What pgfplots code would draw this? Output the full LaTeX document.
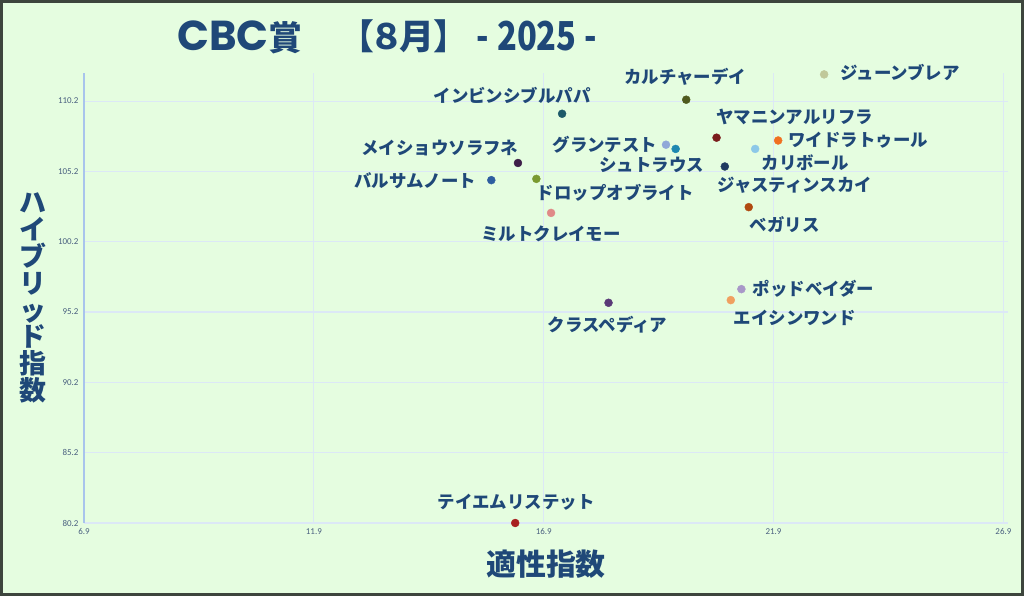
\documentclass[border=0pt]{standalone}
\usepackage{pgfplots}
\pgfplotsset{compat=1.18}
\usepackage{fontspec}
\setmainfont{Carlito}
\newfontfamily\jp{Noto Sans CJK JP}
\newfontfamily\jpp{Noto Sans CJK JP}[RawFeature=+palt]
\newfontfamily\pop{Poppins}

\definecolor{bg}{HTML}{E5FDE0}
\definecolor{frame}{HTML}{3D453D}
\definecolor{navy}{HTML}{1F4878}
\definecolor{gridc}{HTML}{DCE8F6}
\definecolor{yaxc}{HTML}{A8C4EC}
\definecolor{tickc}{HTML}{4A6080}

\definecolor{cJune}{HTML}{C0C89A}
\definecolor{cCult}{HTML}{4F5A1E}
\definecolor{cYama}{HTML}{7A1C1C}
\definecolor{cWide}{HTML}{F07020}
\definecolor{cKari}{HTML}{8CC8E8}
\definecolor{cGran}{HTML}{90A8D8}
\definecolor{cStra}{HTML}{1E88B0}
\definecolor{cJust}{HTML}{1F3A60}
\definecolor{cBega}{HTML}{B04A10}
\definecolor{cInvi}{HTML}{1E5A6A}
\definecolor{cMeis}{HTML}{3E1F48}
\definecolor{cBals}{HTML}{2E5EA0}
\definecolor{cDrop}{HTML}{7A9A30}
\definecolor{cMilt}{HTML}{E08A88}
\definecolor{cCras}{HTML}{5A3A78}
\definecolor{cPodd}{HTML}{A898C8}
\definecolor{cEish}{HTML}{F0A060}
\definecolor{cTeie}{HTML}{A82020}

\newcommand\labfont{\jp\bfseries\fontsize{17.5}{19}\selectfont}
% colour, x, y, name, label shift x, label shift y
\newcommand\horse[6]{%
  \addplot[only marks, mark=*, mark size=4, color=#1,
    nodes near coords={#4},
    every node near coord/.append style={anchor=center, xshift=#5bp, yshift=#6bp,
      text=navy, font=\labfont, inner sep=0pt}]
    coordinates {(#2,#3)};}

\begin{document}
\begin{tikzpicture}[x=1bp,y=1bp]
\useasboundingbox (0,0) rectangle (1024,596);
\fill[bg] (0,0) rectangle (1024,596);
\draw[frame, line width=3bp] (1.5,1.5) rectangle (1022.5,594.5);

% title, in three parts
\node[text=navy, inner sep=0pt, anchor=base] at (240,545)
  {{\pop\bfseries\fontsize{42}{46}\selectfont CBC}{\jp\bfseries\fontsize{34}{36}\selectfont 賞}};
\node[text=navy, inner sep=0pt, anchor=base, font=\jpp\bfseries\fontsize{35}{40}\selectfont] at (404,546) {【８月】};
\node[text=navy, inner sep=0pt, anchor=base, font=\jp\bfseries\fontsize{40}{44}\selectfont, xscale=0.82] at (537,545) {-\hspace{10bp}2025\hspace{10bp}-};

\node[text=navy, font=\jp\bfseries\fontsize{30}{32}\selectfont] at (546,32) {適性指数};
\node[text=navy, align=center, font=\jp\bfseries\fontsize{27}{27}\selectfont] at (33,298)
  {ハ\\イ\\ブ\\リ\\ッ\\ド\\指\\数};

\begin{axis}[
  at={(84bp,73bp)}, anchor=south west,
  scale only axis, width=924bp, height=450bp,
  xmin=6.9, xmax=27.0, ymin=80.2, ymax=112.2,
  xtick={6.9,11.9,16.9,21.9,26.9},
  ytick={80.2,85.2,90.2,95.2,100.2,105.2,110.2},
  axis lines=left, axis line style={-},
  x axis line style={draw=gridc, line width=1.5bp},
  y axis line style={draw=yaxc, line width=1.5bp},
  grid=major, major grid style={draw=gridc, line width=1.2bp},
  major tick length=0pt,
  tick label style={font=\fontsize{9}{10}\selectfont, text=tickc},
  /pgf/number format/assume math mode=true,
  /pgf/number format/.cd, fixed, precision=1, fixed zerofill,
  /pgfplots/.cd,
  xticklabel style={yshift=-2bp},
  yticklabel style={xshift=-2bp},
  clip=false,
]
\horse{cJune}{23.0}{112.1}{ジューンブレア}{76}{2}
\horse{cCult}{20.0}{110.3}{カルチャーデイ}{-1}{23}
\horse{cInvi}{17.3}{109.3}{インビンシブルパパ}{-50}{18}
\horse{cYama}{20.66}{107.6}{ヤマニンアルリフラ}{78}{21}
\horse{cWide}{22.0}{107.4}{ワイドラトゥール}{80}{0}
\horse{cGran}{19.56}{107.1}{グランテスト}{-61}{0}
\horse{cStra}{19.77}{106.8}{シュトラウス}{-24}{-16}
\horse{cKari}{21.5}{106.8}{カリボール}{50}{-14}
\horse{cJust}{20.84}{105.55}{ジャスティンスカイ}{70}{-19}
\horse{cBega}{21.36}{102.66}{ベガリス}{36}{-17}
\horse{cMeis}{16.34}{105.8}{メイショウソラフネ}{-78}{15}
\horse{cBals}{15.76}{104.58}{バルサムノート}{-76}{-1}
\horse{cDrop}{16.74}{104.67}{ドロップオブライト}{79}{-14}
\horse{cMilt}{17.06}{102.25}{ミルトクレイモー}{0}{-21}
\horse{cCras}{18.31}{95.86}{クラスペディア}{-1}{-22}
\horse{cPodd}{21.2}{96.83}{ポッドベイダー}{72}{0}
\horse{cEish}{20.97}{96.05}{エイシンワンド}{64}{-18}
\horse{cTeie}{16.28}{80.2}{テイエムリステット}{1}{21}
\end{axis}
\end{tikzpicture}
\end{document}
